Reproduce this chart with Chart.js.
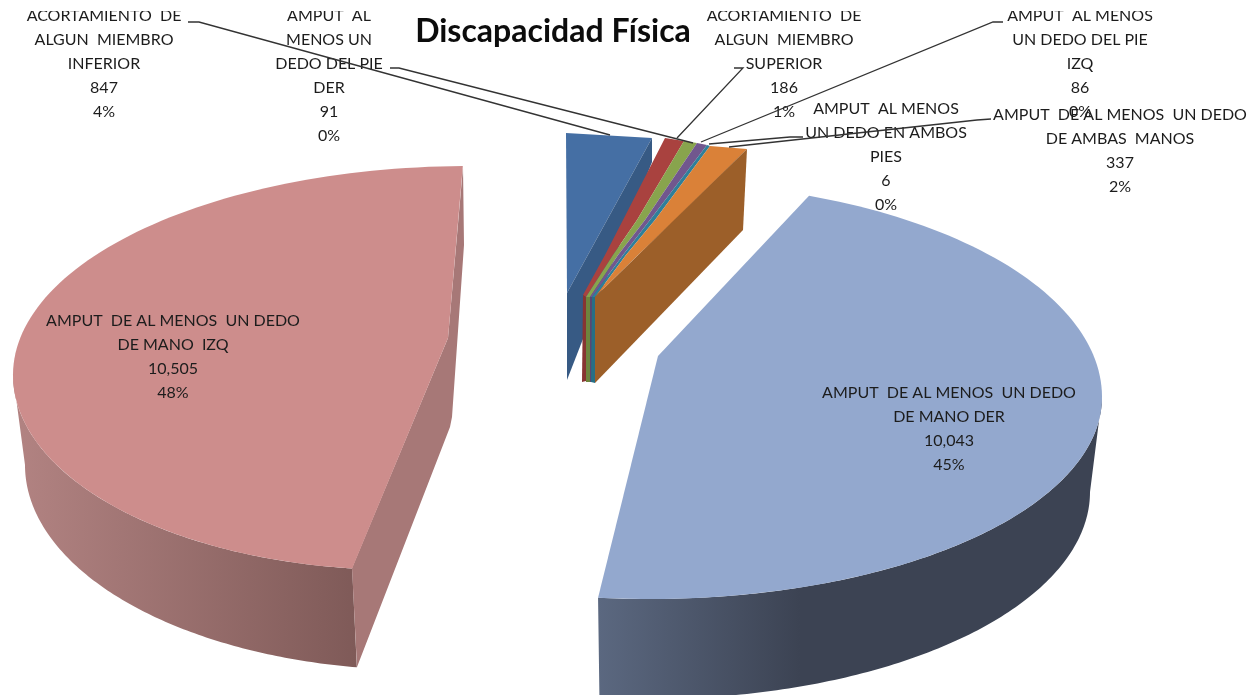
<!DOCTYPE html>
<html><head><meta charset="utf-8">
<style>html,body{margin:0;padding:0;background:#fff}canvas{display:block}</style>
<script src="https://cdn.jsdelivr.net/npm/chart.js@4"></script>
</head><body><canvas id="c" width="1249" height="695"></canvas>
<script>
const chartTitle = 'Discapacidad Física';
const categories = [
  ['ACORTAMIENTO  DE','ALGUN  MIEMBRO','INFERIOR'],
  ['ACORTAMIENTO  DE','ALGUN  MIEMBRO','SUPERIOR'],
  ['AMPUT  AL','MENOS UN','DEDO DEL PIE','DER'],
  ['AMPUT  AL MENOS','UN DEDO DEL PIE','IZQ'],
  ['AMPUT  AL MENOS','UN DEDO EN AMBOS','PIES'],
  ['AMPUT  DE AL MENOS  UN DEDO','DE AMBAS  MANOS'],
  ['AMPUT  DE AL MENOS  UN DEDO','DE MANO DER'],
  ['AMPUT  DE AL MENOS  UN DEDO','DE MANO  IZQ']
];
const values = [847,186,91,86,6,337,10043,10505];
const percents = ['4%','1%','0%','0%','0%','2%','45%','48%'];
const faceColors = ['#456FA4','#A9423F','#88A44D','#71578E','#2F7F9A','#DA8138','#93A8CE','#CD8D8C'];

// --- drawing style: how each flat slice is projected to the tilted 3D look ---
const wallColors = ['#375A84','#873432','#6D843E','#5A4672','#266F86','#9C5F29',null,'#A77877'];
const stripEdges = [
  [[665,138],[623,220],[605,255],[583,295]],
  [[684,141],[637,220],[613,255],[586,297]],
  [[697,143],[645,220],[618,255],[590,297]],
  [[707,145],[650,220],[623,255],[592,297]],
  [[710,146],[655,220],[626,255],[595,297]],
  [[747,149],[675,220],[638,255],[595,297]]
];
const stripDrop = [
  null,
  [[586,381],[582,382]],
  [[590,382],[586,382]],
  [[592,382],[590,382]],
  [[595,383],[591,382]],
  null
];
const firstSlice = {face:[[566,133],[652,138],[567,293]], wall:[[652,138],[652,162],[567,380],[567,293]]};
const lastStripWall = [[747,149],[743,230],[595,383],[595,297]];
const rad = d => d*Math.PI/180;
const wide = {
  6:{apex:[658,356], cy:397, up:[650,452,215], low:[650,452,202], phi:[-69.4,96.6],
     wallTop:[0,96.6], base:{cx:650,cy:492,a:440,b:207,phi:[0,96.6]},
     grad:[598,800,'#5B6880','#3C4353']},
  7:{apex:[448,338], cy:375, up:[470,457,209], low:[400,387,195], phi:[97.1,269.1],
     wallTop:[97.1,180], base:{cx:420,cy:465,a:395,b:205,phi:[99.2,180]},
     grad:[15,357,'#B28382','#7F5A58'],
     cut:[[463,167],[464,245],[452,417],[450,427],[357,667],[352,568],[448,338]]}
};
const labelBoxes = [
  [104,16],[784,16],[329,16],[1080,16],[886,109],[1120,115],[949,393],[173,321]
];
const lineGap = 24;
const leaders = [
  [[188,22],[199,22],[610,135]],
  [[734,68],[743,68],[677,138]],
  [[390,68],[399,68],[693,143]],
  [[1003,22],[993,22],[701,142]],
  [[803,137],[790,137],[709,144]],
  [[991,119],[977,120],[729,147]]
];

function outline(s, deg){
  const p = rad(deg), sn = Math.sin(p), cs = Math.cos(p);
  const e = sn < 0 ? s.up : s.low;
  return [e[0] + e[1]*cs, s.cy + e[2]*sn];
}
function poly(ctx, pts, fill){
  ctx.beginPath();
  pts.forEach((q,i)=> i ? ctx.lineTo(q[0],q[1]) : ctx.moveTo(q[0],q[1]));
  ctx.closePath();
  ctx.fillStyle = fill;
  ctx.fill();
}
function fmt(v){ return v.toLocaleString('en-US'); }

const pie3d = {
  id:'pie3d',
  beforeDatasetsDraw(chart){
    const ctx = chart.ctx, arcs = chart.getDatasetMeta(0).data;
    ctx.save();
    ctx.clearRect(0,0,chart.width,chart.height);
    // small exploded group, back to front
    arcs.forEach((arc,i)=>{
      if(i>5) return;
      const face = arc.options.backgroundColor;
      if(i===0){
        poly(ctx,firstSlice.face,face);
        poly(ctx,firstSlice.wall,wallColors[0]);
        return;
      }
      const a = stripEdges[i-1], b = stripEdges[i];
      poly(ctx,a.concat(b.slice().reverse()),face);
      if(i===5){ poly(ctx,lastStripWall,wallColors[5]); return; }
      const d = stripDrop[i];
      poly(ctx,[a[3],b[3],d[0],d[1]],wallColors[i]);
    });
    // large slices: sweep follows the arc element's own angles
    arcs.forEach((arc,i)=>{
      const s = wide[i]; if(!s) return;
      const n = 120, top = [];
      const a0 = arc.startAngle, a1 = arc.endAngle;
      for(let k=0;k<=n;k++){
        const th = a0 + (a1-a0)*k/n;
        const t = (th-a0)/(a1-a0);
        top.push(outline(s, s.phi[0] + (s.phi[1]-s.phi[0])*t));
      }
      const arcTop = [], arcBase = [], b = s.base;
      for(let k=0;k<=n;k++){
        arcTop.push(outline(s, s.wallTop[0]+(s.wallTop[1]-s.wallTop[0])*k/n));
        const p = rad(b.phi[0]+(b.phi[1]-b.phi[0])*k/n);
        arcBase.push([b.cx+b.a*Math.cos(p), b.cy+b.b*Math.sin(p)]);
      }
      const g = ctx.createLinearGradient(s.grad[0],0,s.grad[1],0);
      g.addColorStop(0,s.grad[2]); g.addColorStop(1,s.grad[3]);
      poly(ctx, arcTop.concat(arcBase.slice().reverse()), g);
      if(s.cut) poly(ctx, s.cut, wallColors[i]);
      poly(ctx, top.concat([s.apex]), arc.options.backgroundColor);
    });
    // labels
    ctx.save();
    ctx.beginPath(); ctx.rect(0,11,chart.width,chart.height-11); ctx.clip();
    ctx.font = '16px Lato';
    ctx.textAlign='center'; ctx.textBaseline='middle';
    ctx.fillStyle='#1c1c1c';
    ctx.filter='blur(0.35px)';
    categories.forEach((lines,i)=>{
      const [x,y] = labelBoxes[i];
      lines.concat([fmt(values[i]),percents[i]]).forEach((t,k)=> ctx.fillText(t,x,y+k*lineGap));
    });
    ctx.restore();
    // leader lines
    ctx.strokeStyle='#333'; ctx.lineWidth=1.3;
    leaders.forEach(l=>{
      ctx.beginPath();
      l.forEach((q,k)=> k?ctx.lineTo(q[0],q[1]):ctx.moveTo(q[0],q[1]));
      ctx.stroke();
    });
    // title
    ctx.font='bold 32px Lato';
    ctx.textAlign='center'; ctx.textBaseline='middle';
    ctx.fillStyle='#0c0c0c';
    ctx.fillText(chartTitle,553,32);
    ctx.restore();
    return false;
  }
};

new Chart(document.getElementById('c'),{
  type:'pie',
  data:{labels:categories,datasets:[{data:values,backgroundColor:faceColors,borderWidth:0}]},
  options:{responsive:false,animation:false,rotation:-12,
    plugins:{legend:{display:false},tooltip:{enabled:false},title:{display:false}}},
  plugins:[pie3d]
});
</script></body></html>
